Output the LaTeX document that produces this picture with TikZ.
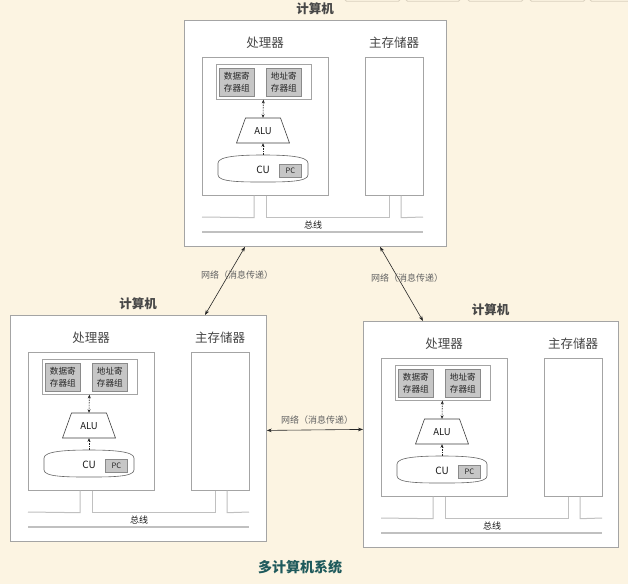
\documentclass[tikz,border=0pt]{standalone}
\usepackage{fontspec}
\setmainfont{Noto Sans CJK SC}
\usetikzlibrary{arrows.meta}

\definecolor{paper}{HTML}{FCF4E2}
\definecolor{frame}{HTML}{A4A4A4}
\definecolor{busgray}{HTML}{C0C0C0}
\definecolor{regfill}{HTML}{C6C6C6}
\definecolor{regline}{HTML}{8A8A8A}
\definecolor{labelgray}{HTML}{474747}
\definecolor{netgray}{HTML}{626262}
\definecolor{captioncol}{HTML}{1F5A5C}
\definecolor{tabline}{HTML}{D9D0BE}

\tikzset{
  outerbox/.style={draw=frame, fill=white, line width=0.8pt, anchor=north west,
    inner sep=0pt, minimum height=226pt},
  panel/.style={draw=frame, fill=white, line width=0.7pt, anchor=north west, inner sep=0pt},
  regbox/.style={draw=regline, fill=regfill, line width=0.6pt, anchor=north west,
    inner sep=0pt, align=center, font=\fontsize{8.6}{12.5}\selectfont, text=black!85},
  titletext/.style={font=\fontsize{12.5}{14}\selectfont\bfseries, text=labelgray},
  labeltext/.style={font=\fontsize{12.5}{14}\selectfont, text=labelgray},
  smalltext/.style={font=\fontsize{9}{11}\selectfont, text=black!90},
  nettext/.style={font=\fontsize{9}{11}\selectfont, text=netgray},
  ghost/.style={inner sep=0pt},
  innerarrow/.style={line width=0.6pt, black!85, dash pattern=on 1.6pt off 1pt,
    {Stealth[length=3.6pt,width=3pt]}-{Stealth[length=3.6pt,width=3pt]}},
  uparrow/.style={line width=0.6pt, black!85, dash pattern=on 1.6pt off 1pt,
    -{Stealth[length=3.6pt,width=3pt]}},
  netarrow/.style={line width=0.6pt, black!85,
    {Stealth[length=5pt,width=3.6pt]}-{Stealth[length=5pt,width=3.6pt]}},
  busline/.style={draw=busgray, line width=1pt},
  busmain/.style={draw=busgray, line width=1.7pt},
  pics/computer/.style={code={
    % outer frame and headings
    \node[outerbox, minimum width=#1pt] (-box) at (0,0) {};
    \node[titletext] (-title) at ({#1/2},-11) {计算机};
    \node[labeltext] (-cpulabel) at (81,23) {处理器};
    \node[labeltext] (-memlabel) at (210,23) {主存储器};
    % processor and main memory
    \node[panel, minimum width=126pt, minimum height=138pt] (-cpu) at (18,37) {};
    \node[panel, minimum width=58pt, minimum height=138pt] (-mem) at (181,37) {};
    % register files
    \node[panel, minimum width=95pt, minimum height=35pt] (-regs) at (31.5,44) {};
    \node[regbox, minimum width=35pt, minimum height=28pt] (-dreg) at (35,48) {数据寄\\存器组};
    \node[regbox, minimum width=35pt, minimum height=28pt] (-areg) at (82,48) {地址寄\\存器组};
    % ALU
    \draw[draw=black!75, fill=white, line width=0.6pt]
      (61.5,98) -- (96.5,98) -- (105.5,123) -- (52.5,123) -- cycle;
    \node[ghost, minimum width=53pt, minimum height=25pt] (-alu) at (79,110.5) {};
    \node[smalltext, font=\fontsize{9.5}{11}\selectfont] (-alutext) at (79,111) {ALU};
    % control unit
    \draw[draw=black!60, fill=white, line width=0.6pt]
      (34,143) .. controls (34,136) and (58,135) .. (79,135)
      .. controls (100,135) and (124,136) .. (124,143) -- (124,155)
      .. controls (124,162) and (100,162) .. (79,162)
      .. controls (58,162) and (34,162) .. (34,155) -- cycle;
    \node[ghost, minimum width=90pt, minimum height=27pt] (-cu) at (79,148.5) {};
    \node[smalltext, font=\fontsize{10}{12}\selectfont] (-cutext) at (79,150) {CU};
    \node[regbox, font=\fontsize{7.5}{9}\selectfont, minimum width=22pt, minimum height=13pt] (-pc) at (95,144) {PC};
    % data paths inside the processor
    \draw[innerarrow] (-regs.south) -- (-alu.north);
    \draw[uparrow] (-cu.north) -- (-alu.south);
    % system bus
    \draw[busline] ([xshift=52pt]-cpu.south west) -- ++(0,22) -- (18,197);
    \draw[busline] ([xshift=64pt]-cpu.south west) -- ++(0,22)
      -- ([xshift=24pt,yshift=-22pt]-mem.south west) -- ([xshift=24pt]-mem.south west);
    \draw[busline] ([xshift=36pt]-mem.south west) -- ++(0,22) -- (239,197);
    \draw[busmain] (18,212) -- (239,212);
    \node[smalltext] (-bustext) at (129,205) {总线};
  }}
}

\begin{document}
\begin{tikzpicture}[x=1pt,y=-1pt]
  \fill[paper] (0,0) rectangle (628,584);
  \useasboundingbox (0,0) rectangle (628,584);

  % tab edges along the top border
  \foreach \a/\b in {345/400, 406/460, 468/523, 530/585, 590/640}
    \draw[tabline, line width=0.8pt, rounded corners=1.5pt] (\a,-4) -- (\a,1.2) -- (\b,1.2) -- (\b,-4);

  % the three computers
  \pic (top) at (184,20) {computer=262};
  \pic (left) at (10,315) {computer=256};
  \pic (right) at (363,321) {computer=255};

  % message-passing network links
  \draw[netarrow] ([xshift=61pt]top-box.south west) -- ([xshift=195pt]left-box.north west);
  \draw[netarrow] ([xshift=196pt]top-box.south west) -- ([xshift=60pt]right-box.north west);
  \draw[netarrow] ([yshift=-2pt]left-box.east) -- ([yshift=5pt]right-box.west);

  \node[nettext] (net1) at (237,275) {网络（消息传递）};
  \node[nettext] (net2) at (407,278) {网络（消息传递）};
  \node[nettext] (net3) at (317,420) {网络（消息传递）};

  \node[font=\fontsize{14}{16}\selectfont\bfseries, text=captioncol] (caption) at (300,567) {多计算机系统};
\end{tikzpicture}
\end{document}
